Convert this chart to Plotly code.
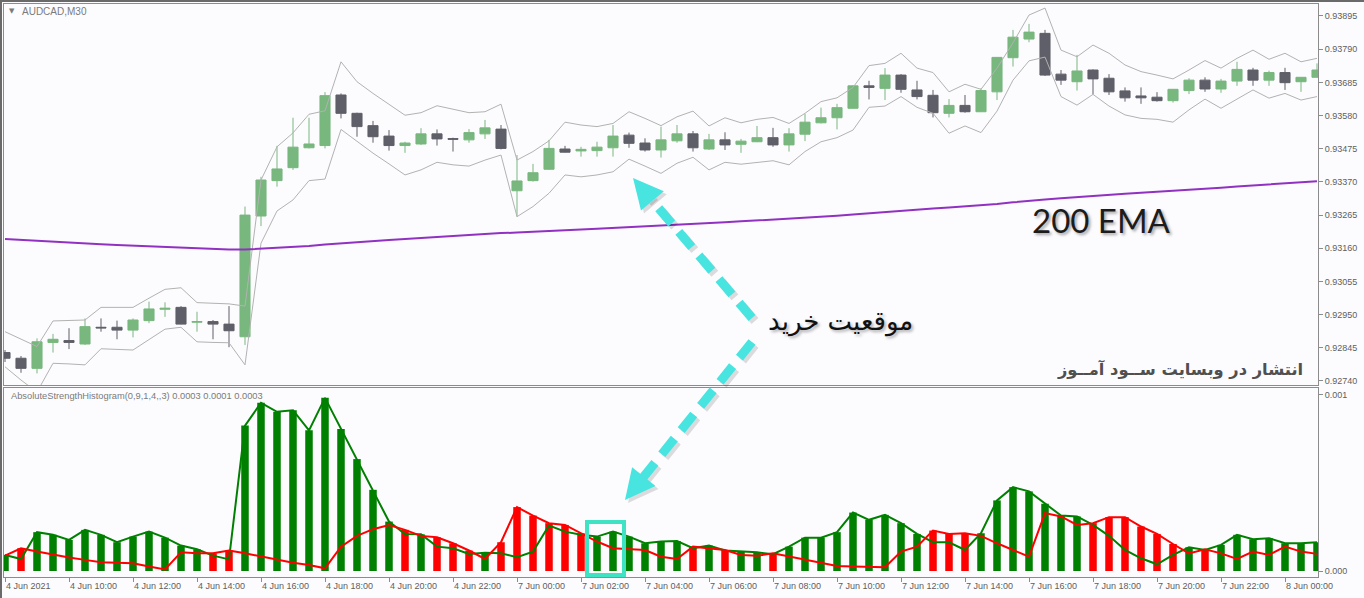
import math
import plotly.graph_objects as go

# ---------------- AUDCAD M30 candles, 4 Jun 08:00 -> 8 Jun 01:00 ----------------
open_ = [0.92830, 0.92812, 0.92780, 0.92862, 0.92868, 0.92857, 0.92910, 0.92910, 0.92901, 0.92931,
         0.92967, 0.92973, 0.92926, 0.92928, 0.92920, 0.92880, 0.93262, 0.93374, 0.93415, 0.93478,
         0.93485, 0.93645, 0.93587, 0.93548, 0.93515, 0.93485, 0.93490, 0.93522, 0.93507, 0.93503,
         0.93522, 0.93537, 0.93342, 0.93374, 0.93410, 0.93474, 0.93468, 0.93469, 0.93478, 0.93518,
         0.93493, 0.93471, 0.93500, 0.93522, 0.93474, 0.93503, 0.93489, 0.93497, 0.93510, 0.93487,
         0.93521, 0.93557, 0.93573, 0.93603, 0.93674, 0.93666, 0.93708, 0.93661, 0.93644, 0.93587,
         0.93612, 0.93592, 0.93655, 0.93763, 0.93822, 0.93840, 0.93711, 0.93687, 0.93724, 0.93698,
         0.93658, 0.93642, 0.93638, 0.93627, 0.93659, 0.93692, 0.93664, 0.93689, 0.93724, 0.93692,
         0.93716, 0.93687, 0.93701]
high = [0.92838, 0.92819, 0.92875, 0.92889, 0.92907, 0.92938, 0.92938, 0.92931, 0.92938, 0.92991,
        0.92989, 0.92977, 0.92959, 0.92933, 0.92977, 0.93292, 0.93386, 0.93484, 0.93573, 0.93573,
        0.93654, 0.93650, 0.93589, 0.93563, 0.93534, 0.93497, 0.93540, 0.93536, 0.93510, 0.93537,
        0.93566, 0.93550, 0.93455, 0.93427, 0.93503, 0.93484, 0.93481, 0.93497, 0.93550, 0.93526,
        0.93508, 0.93545, 0.93550, 0.93531, 0.93522, 0.93527, 0.93506, 0.93547, 0.93541, 0.93540,
        0.93585, 0.93605, 0.93617, 0.93675, 0.93690, 0.93730, 0.93711, 0.93690, 0.93661, 0.93632,
        0.93645, 0.93666, 0.93765, 0.93851, 0.93870, 0.93851, 0.93724, 0.93772, 0.93726, 0.93711,
        0.93669, 0.93669, 0.93654, 0.93663, 0.93698, 0.93701, 0.93696, 0.93750, 0.93731, 0.93722,
        0.93731, 0.93701, 0.93745]
low = [0.92800, 0.92766, 0.92764, 0.92830, 0.92841, 0.92854, 0.92896, 0.92872, 0.92878, 0.92923,
       0.92943, 0.92919, 0.92896, 0.92872, 0.92847, 0.92854, 0.93230, 0.93355, 0.93408, 0.93476,
       0.93476, 0.93571, 0.93513, 0.93494, 0.93469, 0.93462, 0.93487, 0.93485, 0.93466, 0.93494,
       0.93506, 0.93473, 0.93260, 0.93371, 0.93408, 0.93463, 0.93450, 0.93450, 0.93450, 0.93478,
       0.93466, 0.93447, 0.93494, 0.93466, 0.93471, 0.93471, 0.93462, 0.93496, 0.93481, 0.93466,
       0.93499, 0.93555, 0.93536, 0.93602, 0.93631, 0.93629, 0.93652, 0.93631, 0.93574, 0.93574,
       0.93589, 0.93591, 0.93629, 0.93735, 0.93812, 0.93705, 0.93677, 0.93659, 0.93647, 0.93645,
       0.93624, 0.93617, 0.93624, 0.93621, 0.93648, 0.93655, 0.93652, 0.93674, 0.93674, 0.93674,
       0.93661, 0.93655, 0.93701]
close = [0.92812, 0.92780, 0.92864, 0.92872, 0.92862, 0.92912, 0.92908, 0.92901, 0.92933, 0.92968,
         0.92970, 0.92920, 0.92928, 0.92920, 0.92899, 0.93265, 0.93376, 0.93411, 0.93480, 0.93490,
         0.93643, 0.93587, 0.93545, 0.93513, 0.93485, 0.93493, 0.93522, 0.93506, 0.93505, 0.93526,
         0.93541, 0.93476, 0.93373, 0.93399, 0.93476, 0.93464, 0.93473, 0.93480, 0.93515, 0.93492,
         0.93471, 0.93503, 0.93522, 0.93478, 0.93503, 0.93487, 0.93499, 0.93510, 0.93487, 0.93522,
         0.93559, 0.93573, 0.93605, 0.93674, 0.93669, 0.93708, 0.93663, 0.93640, 0.93589, 0.93612,
         0.93592, 0.93659, 0.93764, 0.93828, 0.93844, 0.93708, 0.93692, 0.93721, 0.93696, 0.93655,
         0.93636, 0.93636, 0.93627, 0.93663, 0.93692, 0.93664, 0.93689, 0.93726, 0.93692, 0.93716,
         0.93684, 0.93701, 0.93724]

# channel around price
band_upper = [0.92896, 0.92872, 0.92849, 0.92930, 0.92932, 0.92933, 0.92973, 0.92973, 0.92973, 0.93002,
              0.93030, 0.93035, 0.92988, 0.92986, 0.92984, 0.92977, 0.93376, 0.93481, 0.93525, 0.93584,
              0.93595, 0.93750, 0.93687, 0.93650, 0.93616, 0.93581, 0.93589, 0.93611, 0.93600, 0.93589,
              0.93592, 0.93616, 0.93439, 0.93466, 0.93500, 0.93559, 0.93550, 0.93545, 0.93555, 0.93592,
              0.93571, 0.93548, 0.93576, 0.93594, 0.93547, 0.93573, 0.93557, 0.93568, 0.93574, 0.93555,
              0.93587, 0.93624, 0.93636, 0.93669, 0.93738, 0.93745, 0.93777, 0.93730, 0.93716, 0.93655,
              0.93679, 0.93663, 0.93730, 0.93810, 0.93898, 0.93920, 0.93787, 0.93766, 0.93803, 0.93777,
              0.93740, 0.93719, 0.93708, 0.93696, 0.93724, 0.93754, 0.93730, 0.93761, 0.93787, 0.93758,
              0.93777, 0.93750, 0.93761]
band_lower = [0.92785, 0.92743, 0.92705, 0.92796, 0.92794, 0.92791, 0.92842, 0.92840, 0.92838, 0.92871,
              0.92904, 0.92910, 0.92864, 0.92862, 0.92861, 0.92791, 0.93176, 0.93278, 0.93313, 0.93374,
              0.93379, 0.93536, 0.93497, 0.93461, 0.93427, 0.93392, 0.93408, 0.93432, 0.93424, 0.93420,
              0.93439, 0.93455, 0.93260, 0.93292, 0.93334, 0.93392, 0.93386, 0.93392, 0.93402, 0.93442,
              0.93420, 0.93397, 0.93429, 0.93448, 0.93408, 0.93432, 0.93426, 0.93432, 0.93437, 0.93424,
              0.93466, 0.93497, 0.93510, 0.93534, 0.93606, 0.93610, 0.93640, 0.93606, 0.93587, 0.93524,
              0.93547, 0.93526, 0.93594, 0.93692, 0.93753, 0.93765, 0.93640, 0.93613, 0.93647, 0.93610,
              0.93582, 0.93571, 0.93568, 0.93559, 0.93598, 0.93632, 0.93603, 0.93632, 0.93661, 0.93635,
              0.93650, 0.93629, 0.93640]

# 200-period EMA
ema200 = [0.931893, 0.931861, 0.931833, 0.931805, 0.931776, 0.931751, 0.931725, 0.931700, 0.931678, 0.931659,
          0.931640, 0.931618, 0.931596, 0.931577, 0.931558, 0.931561, 0.931583, 0.931608, 0.931639, 0.931672,
          0.931719, 0.931760, 0.931797, 0.931830, 0.931860, 0.931891, 0.931924, 0.931955, 0.931986, 0.932018,
          0.932052, 0.932079, 0.932095, 0.932114, 0.932140, 0.932165, 0.932190, 0.932216, 0.932245, 0.932272,
          0.932296, 0.932323, 0.932352, 0.932376, 0.932403, 0.932427, 0.932452, 0.932478, 0.932502, 0.932529,
          0.932559, 0.932591, 0.932626, 0.932666, 0.932707, 0.932750, 0.932789, 0.932825, 0.932855, 0.932888,
          0.932918, 0.932954, 0.933001, 0.933053, 0.933107, 0.933146, 0.933184, 0.933224, 0.933261, 0.933294,
          0.933325, 0.933355, 0.933384, 0.933417, 0.933452, 0.933483, 0.933517, 0.933554, 0.933588, 0.933623,
          0.933655, 0.933689, 0.933724]

# AbsoluteStrengthHistogram(0,9,1,4,,3): bulls / bears buffers
bulls = [0.000091, 0.000068, 0.000220, 0.000205, 0.000176, 0.000233, 0.000205, 0.000163, 0.000195, 0.000223,
         0.000189, 0.000144, 0.000123, 0.000087, 0.000066, 0.000824, 0.000953, 0.000902, 0.000911, 0.000797,
         0.000981, 0.000805, 0.000634, 0.000460, 0.000280, 0.000210, 0.000208, 0.000138, 0.000129, 0.000097,
         0.000104, 0.000100, 0.000078, 0.000110, 0.000258, 0.000223, 0.000205, 0.000195, 0.000223, 0.000195,
         0.000157, 0.000167, 0.000170, 0.000129, 0.000144, 0.000116, 0.000110, 0.000106, 0.000095, 0.000138,
         0.000189, 0.000189, 0.000220, 0.000331, 0.000290, 0.000318, 0.000271, 0.000210, 0.000163, 0.000163,
         0.000119, 0.000214, 0.000400, 0.000475, 0.000451, 0.000381, 0.000314, 0.000309, 0.000261, 0.000199,
         0.000119, 0.000072, 0.000038, 0.000091, 0.000134, 0.000119, 0.000148, 0.000205, 0.000180, 0.000186,
         0.000157, 0.000157, 0.000163]
bears = [0.000087, 0.000129, 0.000110, 0.000091, 0.000076, 0.000063, 0.000049, 0.000047, 0.000044, 0.000025,
         0.000009, 0.000106, 0.000100, 0.000100, 0.000116, 0.000100, 0.000081, 0.000063, 0.000047, 0.000034,
         0.000015, 0.000138, 0.000199, 0.000237, 0.000261, 0.000233, 0.000199, 0.000191, 0.000157, 0.000116,
         0.000068, 0.000163, 0.000362, 0.000314, 0.000271, 0.000261, 0.000214, 0.000167, 0.000129, 0.000125,
         0.000119, 0.000081, 0.000068, 0.000138, 0.000129, 0.000119, 0.000091, 0.000087, 0.000100, 0.000081,
         0.000063, 0.000047, 0.000028, 0.000025, 0.000021, 0.000021, 0.000110, 0.000138, 0.000229, 0.000210,
         0.000214, 0.000199, 0.000157, 0.000119, 0.000081, 0.000328, 0.000309, 0.000261, 0.000271, 0.000305,
         0.000305, 0.000252, 0.000210, 0.000153, 0.000100, 0.000123, 0.000100, 0.000068, 0.000110, 0.000091,
         0.000138, 0.000110, 0.000097]

price_ticks = [0.93895, 0.93790, 0.93685, 0.93580, 0.93475, 0.93370,
               0.93265, 0.93160, 0.93055, 0.92950, 0.92845, 0.92740]
time_tick_bars = [0, 4, 8, 12, 16, 20, 24, 28, 32, 36, 40, 44, 48, 52, 56, 60, 64, 68, 72, 76, 80]
time_tick_labels = ["4 Jun 2021", "4 Jun 10:00", "4 Jun 12:00", "4 Jun 14:00", "4 Jun 16:00",
                    "4 Jun 18:00", "4 Jun 20:00", "4 Jun 22:00", "7 Jun 00:00", "7 Jun 02:00",
                    "7 Jun 04:00", "7 Jun 06:00", "7 Jun 08:00", "7 Jun 10:00", "7 Jun 12:00",
                    "7 Jun 14:00", "7 Jun 16:00", "7 Jun 18:00", "7 Jun 20:00", "7 Jun 22:00",
                    "8 Jun 00:00"]
hist_ticks = [0.0, 0.001]
hist_tick_labels = ["0.000", "0.001"]

# ---------------- page geometry & styling ----------------
W, H = 1364, 598
ML, MR, MT, MB = 4, 46, 4, 21
BG = "#FCFCFE"
FRAME = "#8C8C8C"
LABEL = "#5E5E5E"
UP = "#78B77E"
DOWN = "#5F5F69"
BAND = "#B2B2B2"
EMA_COLOR = "#9131C2"
HIST_UP = "#008000"
HIST_DN = "#FF0000"
CYAN = "#47E4E0"
BOX = "#3FE3C4"
TICK_FONT = dict(family="Liberation Sans, Arial, sans-serif", size=9, color=LABEL)


def px(x):
    return (x - ML) / (W - ML - MR)


def py(y):
    return (H - MB - y) / (H - MT - MB)


bars = list(range(len(close)))
hist = [max(b, s) for b, s in zip(bulls, bears)]
hist_colors = [HIST_UP if b >= s else HIST_DN for b, s in zip(bulls, bears)]

fig = go.Figure()

fig.add_trace(go.Candlestick(
    x=bars, open=open_, high=high, low=low, close=close,
    increasing=dict(line=dict(color=UP, width=1), fillcolor=UP),
    decreasing=dict(line=dict(color=DOWN, width=1), fillcolor=DOWN),
    whiskerwidth=0, xaxis="x", yaxis="y", hoverinfo="skip", showlegend=False))
fig.add_trace(go.Scatter(x=bars, y=band_upper, mode="lines", line=dict(color=BAND, width=1),
                         xaxis="x", yaxis="y", hoverinfo="skip", showlegend=False))
fig.add_trace(go.Scatter(x=bars, y=band_lower, mode="lines", line=dict(color=BAND, width=1),
                         xaxis="x", yaxis="y", hoverinfo="skip", showlegend=False))
fig.add_trace(go.Scatter(x=bars, y=ema200, mode="lines", line=dict(color=EMA_COLOR, width=2),
                         xaxis="x", yaxis="y", hoverinfo="skip", showlegend=False))

fig.add_trace(go.Bar(x=bars, y=hist, width=0.47, marker=dict(color=hist_colors, line=dict(width=0)),
                     xaxis="x2", yaxis="y2", hoverinfo="skip", showlegend=False))
fig.add_trace(go.Scatter(x=bars, y=bulls, mode="lines", line=dict(color=HIST_UP, width=2),
                         xaxis="x2", yaxis="y2", hoverinfo="skip", showlegend=False))
fig.add_trace(go.Scatter(x=bars, y=bears, mode="lines", line=dict(color=HIST_DN, width=2),
                         xaxis="x2", yaxis="y2", hoverinfo="skip", showlegend=False))

x_range = [-0.0625, 82.0625]
frame = dict(showline=True, mirror=True, linecolor=FRAME, linewidth=1,
             showgrid=False, zeroline=False, fixedrange=True)

fig.update_layout(
    width=W, height=H,
    margin=dict(l=ML, r=MR, t=MT, b=MB, pad=0),
    paper_bgcolor=BG, plot_bgcolor=BG,
    boxgap=0.1, boxgroupgap=0.3,
    hovermode=False,
    showlegend=False,
    xaxis=dict(domain=[0, 1], anchor="y", range=x_range, showticklabels=False, ticks="",
               rangeslider=dict(visible=False), **frame),
    yaxis=dict(domain=[0.33508, 1], anchor="x", side="right",
               range=[0.9272731, 0.9393294],
               tickmode="array", tickvals=price_ticks,
               ticktext=[f"{v:.5f}" for v in price_ticks],
               ticks="outside", ticklen=4, tickcolor=FRAME, tickfont=TICK_FONT, **frame),
    xaxis2=dict(domain=[0, 1], anchor="y2", range=x_range,
                tickmode="array", tickvals=time_tick_bars, ticktext=time_tick_labels,
                ticks="outside", ticklen=4, tickcolor=FRAME, tickfont=TICK_FONT,
                ticklabelposition="outside right", **frame),
    yaxis2=dict(domain=[0, 0.32984], anchor="x2", side="right",
                range=[-0.000034, 0.0010368],
                tickmode="array", tickvals=hist_ticks, ticktext=hist_tick_labels,
                ticks="outside", ticklen=4, tickcolor=FRAME, tickfont=TICK_FONT, **frame),
)

shapes = []
# window border
shapes.append(dict(type="line", xref="paper", yref="paper", x0=px(0), x1=px(W), y0=py(1), y1=py(1),
                   line=dict(color="#6A6A6A", width=2)))
shapes.append(dict(type="line", xref="paper", yref="paper", x0=px(1), x1=px(1), y0=py(0), y1=py(H),
                   line=dict(color="#6A6A6A", width=2)))

# highlight box around the entry bars in the histogram
shapes.append(dict(type="rect", xref="paper", yref="paper",
                   x0=px(587), x1=px(624), y0=py(575), y1=py(522),
                   line=dict(color=BOX, width=4), fillcolor="rgba(0,0,0,0)"))


def dashed_arrow(x0, y0, x1, y1, head_len=30, head_half=15, width=9):
    dx, dy = x1 - x0, y1 - y0
    n = math.hypot(dx, dy)
    ux, uy = dx / n, dy / n
    bx, by = x1 - ux * head_len, y1 - uy * head_len
    vx, vy = -uy, ux
    out = []
    for off, col in ((3, "rgba(0,0,0,0.13)"), (0, CYAN)):
        out.append(dict(type="line", xref="paper", yref="paper",
                        x0=px(x0 + off), y0=py(y0 + off), x1=px(bx + ux * 4 + off), y1=py(by + uy * 4 + off),
                        line=dict(color=col, width=width, dash="20px,11px")))
        pts = [(x1 + off, y1 + off),
               (bx + vx * head_half + off, by + vy * head_half + off),
               (bx - vx * head_half + off, by - vy * head_half + off)]
        path = "M {} {} L {} {} L {} {} Z".format(*[c for p in pts for c in (px(p[0]), py(p[1]))])
        out.append(dict(type="path", xref="paper", yref="paper", path=path,
                        fillcolor=col, line=dict(width=0)))
    return out


shapes += dashed_arrow(752, 318, 633, 178)
shapes += dashed_arrow(752, 342, 625, 500)
fig.update_layout(shapes=shapes)

annotations = [
    dict(text="▼", x=px(7), y=py(11), xanchor="left", yanchor="middle",
         font=dict(family="DejaVu Sans", size=7, color="#7A7A7A")),
    dict(text="AUDCAD,M30", x=px(20), y=py(12), xanchor="left", yanchor="middle",
         font=dict(family="Liberation Sans, Arial, sans-serif", size=10, color="#7A7A7A")),
    dict(text="AbsoluteStrengthHistogram(0,9,1,4,,3) 0.0003 0.0001 0.0003",
         x=px(9), y=py(396), xanchor="left", yanchor="middle",
         font=dict(family="Liberation Sans, Arial, sans-serif", size=9.3, color="#7A7A7A")),
    dict(text="200 EMA", x=px(1101), y=py(220), xanchor="center", yanchor="middle",
         font=dict(family="Lato, Open Sans, sans-serif", size=33, color="#1C1C1C",
                   shadow="2px 2px 3px rgba(0,0,0,0.35)")),
    dict(text="موقعیت خرید", x=px(840), y=py(321), xanchor="center", yanchor="middle",
         font=dict(family="DejaVu Sans", size=26, color="#111111",
                   shadow="2px 2px 3px rgba(0,0,0,0.3)")),
    dict(text="<b>انتشار در وبسایت ســود آمــوز</b>", x=px(1305), y=py(369),
         xanchor="right", yanchor="middle",
         font=dict(family="DejaVu Sans", size=16.3, color="#505050")),
]
for a in annotations:
    a.update(xref="paper", yref="paper", showarrow=False)
fig.update_layout(annotations=annotations)

fig.write_html("out.html", config={"displayModeBar": False, "staticPlot": True})
